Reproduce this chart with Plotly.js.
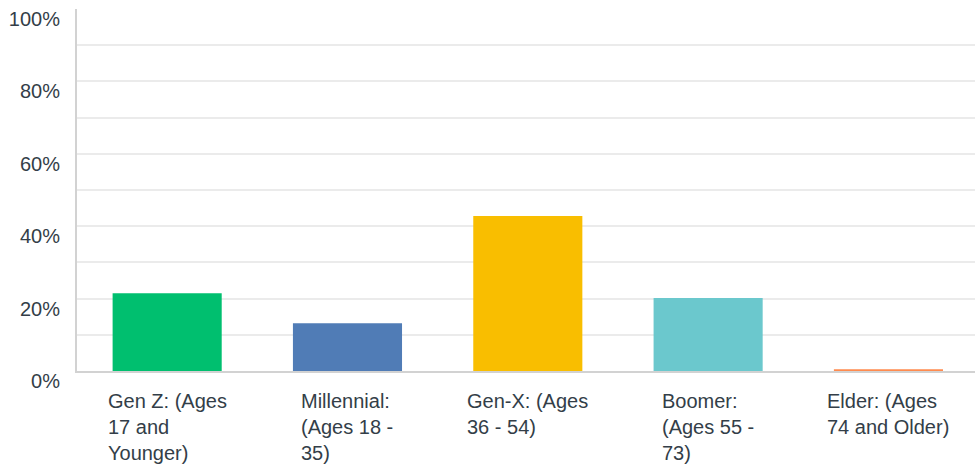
<!DOCTYPE html>
<html>
<head>
<meta charset="utf-8">
<script src="https://cdn.plot.ly/plotly-3.0.1.min.js"></script>
<style>html,body{margin:0;padding:0;background:#fff;}#chart{width:975px;height:469px;}</style>
</head>
<body>
<div id="chart"></div>
<script>
const categories = ["Gen Z: (Ages<br>17 and<br>Younger)", "Millennial:<br>(Ages 18 -<br>35)", "Gen-X: (Ages<br>36 - 54)", "Boomer:<br>(Ages 55 -<br>73)", "Elder: (Ages<br>74 and Older)"];
const values = [21.5, 13.2, 42.8, 20.2, 0.5];
const barColors = ["#00bf6f", "#507cb6", "#f9be00", "#6bc8cd", "#ff8b4f"];
const yTicks = [0, 20, 40, 60, 80, 100];
const yTickText = ["0%", "20%", "40%", "60%", "80%", "100%"];
const gridVals = [10, 20, 30, 40, 50, 60, 70, 80, 90];

const textColor = "#333e48";
const fontFam = "Arial, 'Liberation Sans', Helvetica, sans-serif";
const idx = categories.map((c, i) => i);

const trace = {
  type: "bar",
  x: idx,
  y: values,
  marker: {color: barColors},
  hoverinfo: "none",
  showlegend: false
};
const gridTrace = {
  type: "scatter", x: [0], y: [0], yaxis: "y2", mode: "markers",
  marker: {opacity: 0}, hoverinfo: "none", showlegend: false
};

const annotations = categories.map((c, i) => ({
  x: i, y: 0, xref: "x", yref: "paper",
  text: c, showarrow: false,
  xanchor: "center", yanchor: "top", align: "left",
  yshift: -17,
  font: {family: fontFam, size: 20, color: textColor}
}));

const layout = {
  width: 975, height: 469,
  margin: {l: 77, r: 0, t: 9, b: 98, pad: 0},
  paper_bgcolor: "#fff", plot_bgcolor: "#fff",
  bargap: 0.395,
  font: {family: fontFam, color: textColor},
  xaxis: {
    range: [-0.5, 4.48], showticklabels: false, ticks: "",
    showgrid: false, zeroline: false,
    showline: true, linecolor: "#d2d2d2", linewidth: 2, fixedrange: true
  },
  yaxis: {
    range: [0, 100], tickmode: "array", tickvals: yTicks, ticktext: yTickText,
    showgrid: false, zeroline: false,
    showline: true, linecolor: "#d2d2d2", linewidth: 2,
    ticks: "", ticklabelposition: "outside bottom", ticklabelshift: -4, ticklabelstandoff: 11,
    tickfont: {family: fontFam, size: 20, color: textColor}, fixedrange: true
  },
  yaxis2: {
    overlaying: "y", range: [0, 100], tickmode: "array", tickvals: gridVals,
    showgrid: true, gridcolor: "#ebebeb", gridwidth: 2,
    showticklabels: false, zeroline: false, showline: false, ticks: ""
  },
  annotations: annotations
};

Plotly.newPlot("chart", [gridTrace, trace], layout, {displayModeBar: false, staticPlot: true});
</script>
</body>
</html>
